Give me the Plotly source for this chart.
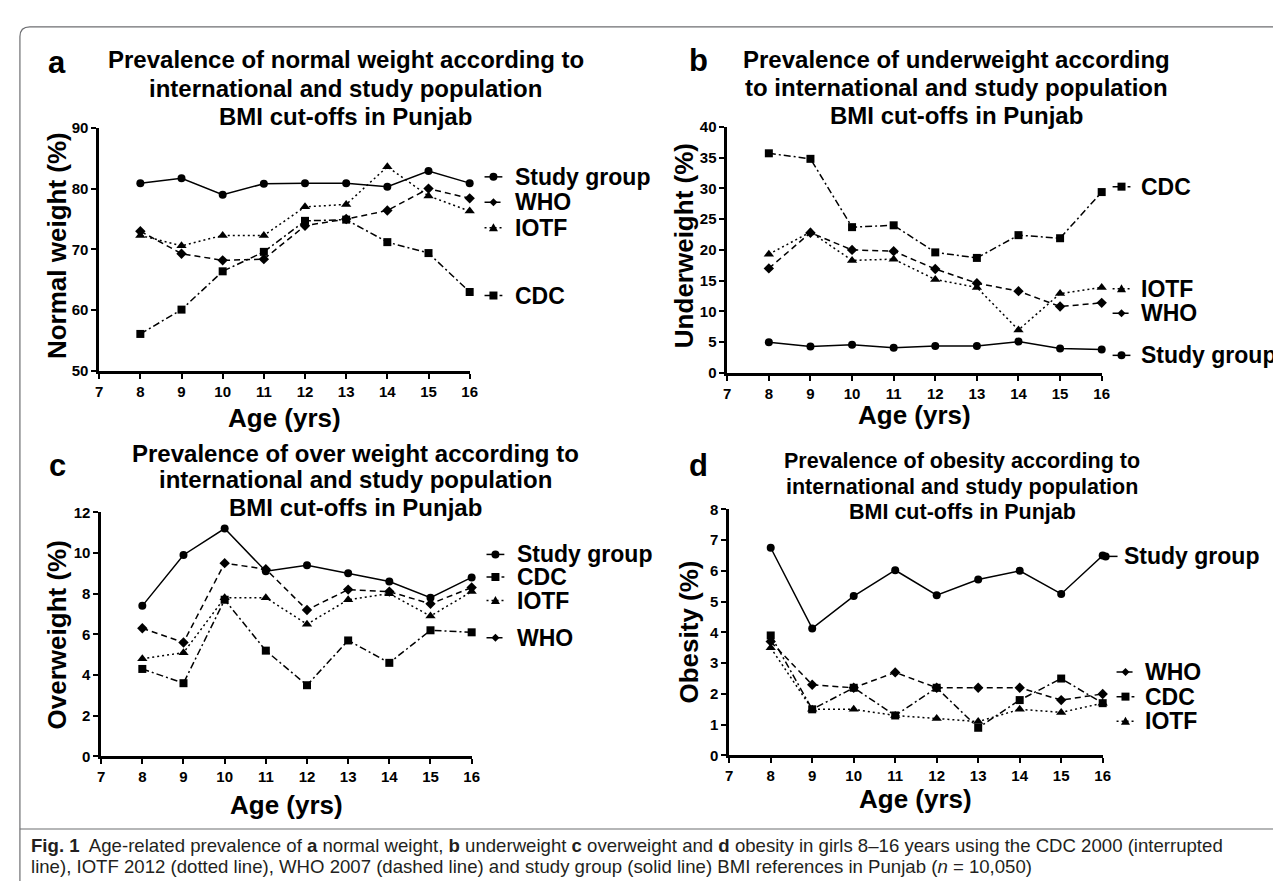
import plotly.graph_objects as go

W, H = 1281, 881

ages = [8, 9, 10, 11, 12, 13, 14, 15, 16]
x_ticks = [7, 8, 9, 10, 11, 12, 13, 14, 15, 16]

# Panel a: normal weight (%)
a_study = [80.9, 81.7, 79.0, 80.8, 80.9, 80.9, 80.3, 82.9, 80.9]
a_who = [73.0, 69.3, 68.2, 68.4, 73.9, 75.0, 76.4, 80.0, 78.4]
a_iotf = [72.3, 70.6, 72.3, 72.3, 77.0, 77.4, 83.6, 78.8, 76.3]
a_cdc = [56.1, 60.1, 66.4, 69.6, 74.7, 74.9, 71.2, 69.4, 63.0]
a_yticks = [50, 60, 70, 80, 90]

# Panel b: underweight (%)
b_study = [5.0, 4.3, 4.6, 4.1, 4.4, 4.4, 5.1, 4.0, 3.8]
b_who = [17.0, 22.8, 20.0, 19.8, 16.9, 14.6, 13.3, 10.8, 11.4]
b_iotf = [19.3, 22.9, 18.3, 18.5, 15.2, 13.9, 7.0, 12.9, 13.9]
b_cdc = [35.7, 34.8, 23.7, 24.0, 19.6, 18.7, 22.4, 21.9, 29.4]
b_yticks = [0, 5, 10, 15, 20, 25, 30, 35, 40]

# Panel c: overweight (%)
c_study = [7.4, 9.9, 11.2, 9.1, 9.4, 9.0, 8.6, 7.8, 8.8]
c_who = [6.3, 5.6, 9.5, 9.2, 7.2, 8.2, 8.1, 7.5, 8.3]
c_iotf = [4.8, 5.1, 7.8, 7.8, 6.5, 7.7, 8.0, 6.9, 8.1]
c_cdc = [4.3, 3.6, 7.7, 5.2, 3.5, 5.7, 4.6, 6.2, 6.1]
c_yticks = [0, 2, 4, 6, 8, 10, 12]

# Panel d: obesity (%)
d_study = [6.75, 4.13, 5.18, 6.02, 5.21, 5.72, 6.0, 5.25, 6.5]
d_who = [3.7, 2.3, 2.2, 2.7, 2.2, 2.2, 2.2, 1.8, 2.0]
d_cdc = [3.9, 1.5, 2.2, 1.3, 2.2, 0.9, 1.8, 2.5, 1.7]
d_iotf = [3.5, 1.5, 1.5, 1.3, 1.2, 1.1, 1.5, 1.4, 1.7]
d_yticks = [0, 1, 2, 3, 4, 5, 6, 7, 8]

titles = {
    "a": ["Prevalence of normal weight according to", "international and study population", "BMI cut-offs in Punjab"],
    "b": ["Prevalence of underweight according", "to international and study population", "BMI cut-offs in Punjab"],
    "c": ["Prevalence of over weight according to", "international and study population", "BMI cut-offs in Punjab"],
    "d": ["Prevalence of obesity according to", "international and study population", "BMI cut-offs in Punjab"],
}
ytitles = {"a": "Normal weight (%)", "b": "Underweight (%)", "c": "Overweight (%)", "d": "Obesity (%)"}
xtitle = "Age (yrs)"

FONT = "Liberation Sans, Arial, Helvetica, sans-serif"
STYLE = {
    "Study group": dict(symbol="circle", dash="solid", size=8),
    "WHO": dict(symbol="diamond", dash="6px,4px", size=8),
    "IOTF": dict(symbol="triangle-up", dash="2px,3px", size=9),
    "CDC": dict(symbol="square", dash="7px,3px,2px,3px", size=8),
}


def px(x):
    return x / W


def py(y):
    return 1 - y / H


panels = {
    "a": dict(ax="", xd=(88, 462), yd=(113, 361), rng=[50, 90], yt=a_yticks,
              series=[("Study group", a_study), ("WHO", a_who), ("IOTF", a_iotf), ("CDC", a_cdc)]),
    "b": dict(ax="2", xd=(722, 1100), yd=(112, 363), rng=[0, 40], yt=b_yticks,
              series=[("Study group", b_study), ("WHO", b_who), ("IOTF", b_iotf), ("CDC", b_cdc)]),
    "c": dict(ax="3", xd=(90, 464), yd=(505, 754), rng=[0, 12], yt=c_yticks,
              series=[("Study group", c_study), ("WHO", c_who), ("IOTF", c_iotf), ("CDC", c_cdc)]),
    "d": dict(ax="4", xd=(724, 1101), yd=(502, 753), rng=[0, 8], yt=d_yticks,
              series=[("Study group", d_study), ("WHO", d_who), ("IOTF", d_iotf), ("CDC", d_cdc)]),
}

fig = go.Figure()
layout = dict(width=W, height=H, margin=dict(l=0, r=0, t=0, b=0), paper_bgcolor="white",
              plot_bgcolor="white", showlegend=False, font=dict(family=FONT, color="black"))

for key, p in panels.items():
    ax = p["ax"]
    for name, vals in p["series"]:
        st = STYLE[name]
        fig.add_trace(go.Scatter(
            x=ages, y=vals, mode="lines+markers", name=name, cliponaxis=False,
            xaxis="x" + ax, yaxis="y" + ax,
            line=dict(color="black", width=1.5, dash=st["dash"]),
            marker=dict(symbol=st["symbol"], size=st["size"], color="black"),
        ))
    common = dict(showline=True, linecolor="black", linewidth=2.5, ticks="outside", ticklen=5,
                  tickwidth=2, tickcolor="black", showgrid=False, zeroline=False, fixedrange=True,
                  tickfont=dict(family=FONT, size=15, color="black", weight="bold"))
    layout["xaxis" + ax] = dict(domain=[px(p["xd"][0]), px(p["xd"][1])], range=[7, 16],
                                tickvals=x_ticks, anchor="y" + ax, **common)
    layout["yaxis" + ax] = dict(domain=[py(p["yd"][1]), py(p["yd"][0])], range=p["rng"],
                                tickvals=p["yt"], anchor="x" + ax, **common)

ann = []
shapes = []


def text(x, y, s, size, xanchor="center", angle=0, color="black"):
    ann.append(dict(x=px(x), y=py(y), xref="paper", yref="paper", text=s, showarrow=False,
                    xanchor=xanchor, yanchor="middle", textangle=angle,
                    font=dict(family=FONT, size=size, color=color)))


# panel letters
for L, (x, y) in {"a": (45, 46), "b": (693, 44), "c": (46, 457), "d": (693, 457)}.items():
    text(x, y, "<b>%s</b>" % L, 31)

# titles
title_pos = {"a": (337, [43, 73, 101], 24), "b": (953, [43, 72, 100], 24),
             "c": (347, [445, 472, 500], 24), "d": (959, [453, 479, 505], 21.5)}
for k, (cx, ys, fs) in title_pos.items():
    for line, yy in zip(titles[k], ys):
        text(cx, yy, "<b>%s</b>" % line, fs)

# y titles
for k, (x, y) in {"a": (45, 233), "b": (678, 233), "c": (45, 630), "d": (683, 627)}.items():
    text(x, y, "<b>%s</b>" % ytitles[k], 26, angle=-90)

# x titles
for (x, y) in [(275, 409), (911, 406), (277, 803), (912, 797)]:
    text(x, y, "<b>%s</b>" % xtitle, 26)


def key(cx, cy, name, x0=None, x1=None):
    st = STYLE[name]
    shapes.append(dict(type="line", xref="paper", yref="paper",
                       x0=px(x0 if x0 is not None else cx - 9), x1=px(x1 if x1 is not None else cx + 9),
                       y0=py(cy), y1=py(cy), line=dict(color="black", width=1.5, dash=st["dash"])))
    base = dict(xref="paper", yref="paper", xsizemode="pixel", ysizemode="pixel",
                xanchor=px(cx), yanchor=py(cy), fillcolor="black", line=dict(width=0))
    if st["symbol"] == "circle":
        shapes.append(dict(type="circle", x0=-4, x1=4, y0=-4, y1=4, **base))
    elif st["symbol"] == "square":
        shapes.append(dict(type="rect", x0=-4, x1=4, y0=-4, y1=4, **base))
    elif st["symbol"] == "diamond":
        shapes.append(dict(type="path", path="M0,4 L4,0 L0,-4 L-4,0 Z", **base))
    else:
        shapes.append(dict(type="path", path="M-4.5,-3.5 L4.5,-3.5 L0,4.5 Z", **base))


LEG = 23
legends = {
    "a": (486, 506, [("Study group", 163), ("WHO", 189), ("IOTF", 215), ("CDC", 284)]),
    "b": (1120, 1138, [("CDC", 173), ("IOTF", 277), ("WHO", 302), ("Study group", 345)]),
    "c": (488, 508, [("Study group", 548), ("CDC", 571), ("IOTF", 595), ("WHO", 633)]),
    "d": (1124, 1142, [("WHO", 668), ("CDC", 693), ("IOTF", 718)]),
}
for k, (kx, tx, items) in legends.items():
    for name, yy in items:
        key(kx, yy, name)
        text(tx, yy, "<b>%s</b>" % name, LEG, xanchor="left")
# panel d study-group label sits at the end of its line
key(1104, 550, "Study group", x0=1101, x1=1116)
text(1121, 550, "<b>Study group</b>", LEG, xanchor="left")

# caption
CAP = "Liberation Sans, Arial, sans-serif"
cap1 = ("<b>Fig. 1</b>  Age-related prevalence of <b>a</b> normal weight, <b>b</b> underweight "
        "<b>c</b> overweight and <b>d</b> obesity in girls 8–16 years using the CDC 2000 (interrupted")
cap2 = ("line), IOTF 2012 (dotted line), WHO 2007 (dashed line) and study group (solid line) "
        "BMI references in Punjab (<i>n</i> = 10,050)")
for s, yy in [(cap1, 845), (cap2, 866)]:
    ann.append(dict(x=px(17), y=py(yy), xref="paper", yref="paper", text=s, showarrow=False,
                    xanchor="left", yanchor="middle", font=dict(family=CAP, size=18.6, color="#231f20")))


# frame
def P(x, y):
    return "%f,%f" % (px(x), py(y))


shapes.append(dict(type="path", xref="paper", yref="paper",
                   path="M%s L%s Q%s %s L%s" % (P(8, 881), P(8, 20), P(8, 10), P(18, 10), P(1281, 10)),
                   line=dict(color="#6d6e71", width=1.2)))
shapes.append(dict(type="line", xref="paper", yref="paper", x0=px(8), x1=px(1281), y0=py(828), y1=py(828),
                   line=dict(color="#6d6e71", width=1.2)))

layout["annotations"] = ann
layout["shapes"] = shapes
fig.update_layout(**layout)
fig.write_html("out.html")
